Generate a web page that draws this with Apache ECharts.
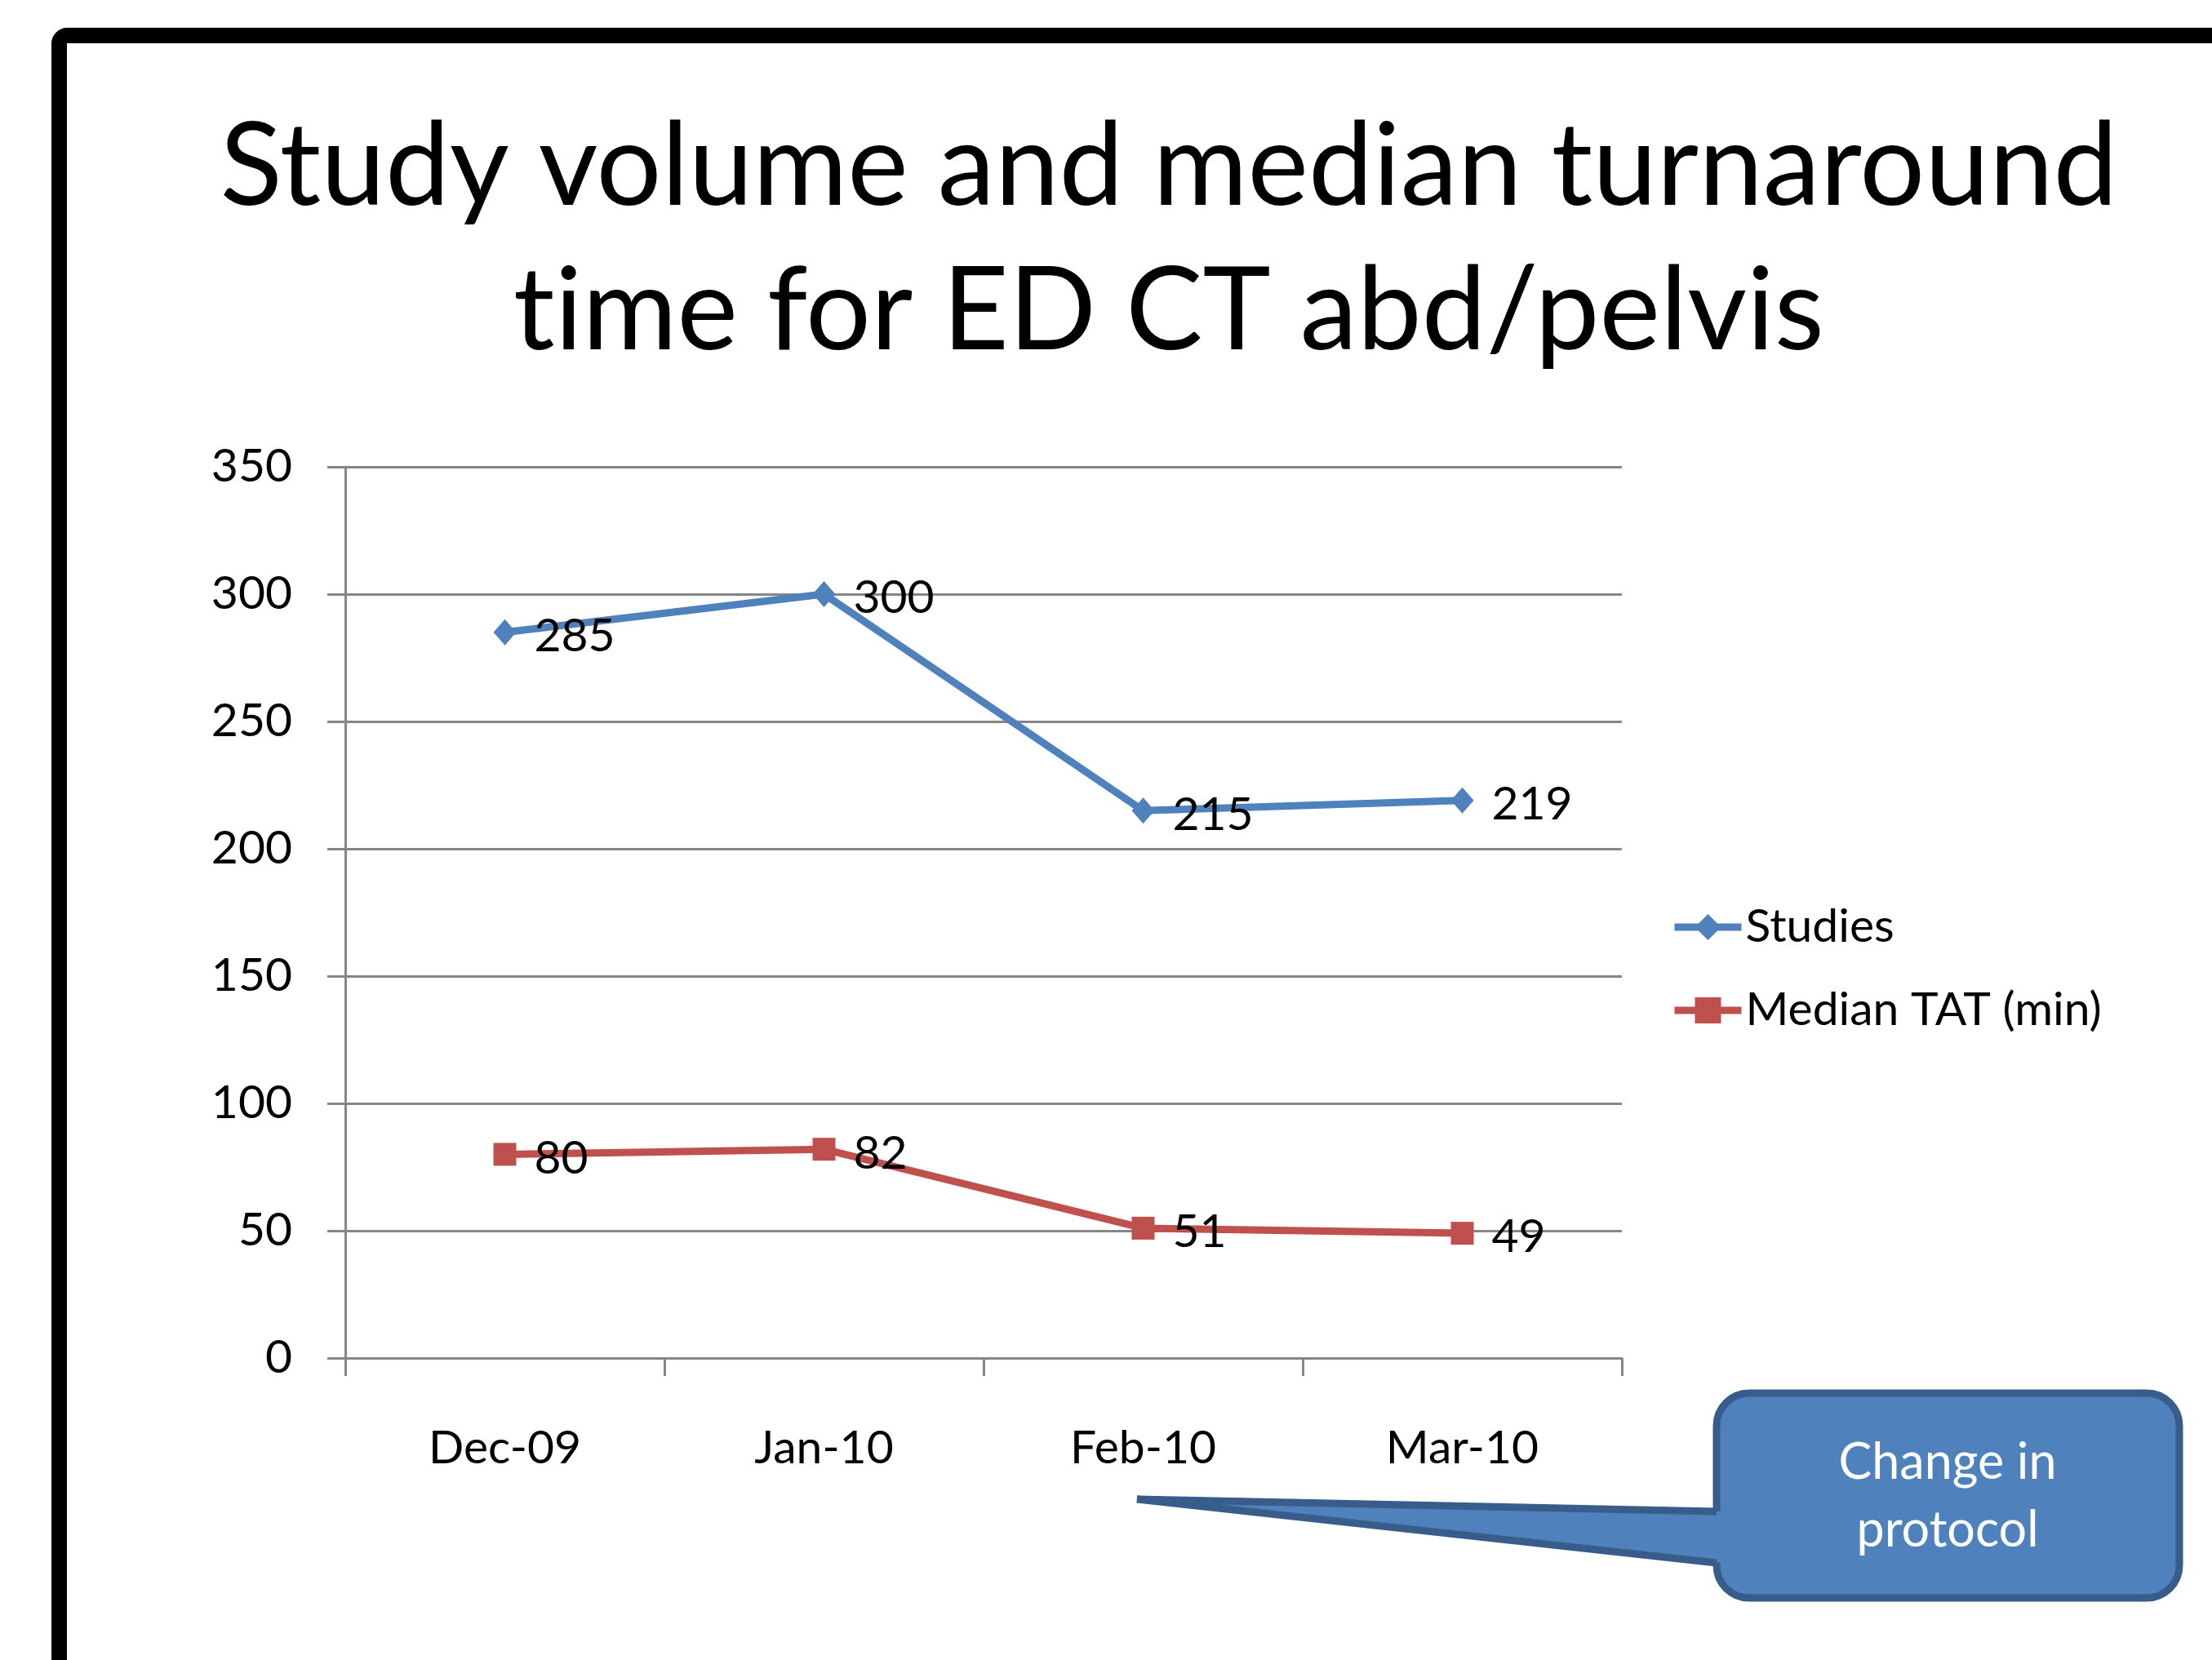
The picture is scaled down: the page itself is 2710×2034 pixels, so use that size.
<!DOCTYPE html>
<html>
<head>
<meta charset="utf-8">
<title>Study volume and median turnaround time</title>
<script src="https://cdn.jsdelivr.net/npm/echarts@6/dist/echarts.min.js"></script>
<style>
    html, body {margin: 0; padding: 0; background: #fff;}
    #chart {width: 2710px; height: 2034px;}
</style>
</head>
<body>
<div id="chart"></div>
<script>
// data
var months = ['Dec-09', 'Jan-10', 'Feb-10', 'Mar-10'];
var studies = [285, 300, 215, 219];
var medianTat = [80, 82, 51, 49];
var yTicks = [0, 50, 100, 150, 200, 250, 300, 350];

var FONT = 'Lato, "Open Sans", sans-serif';
var BLUE = '#4F81BD';
var RED = '#C0504D';

function pointLabel() {
    return {
        show: true,
        position: 'right',
        distance: 22,
        offset: [0, 5],
        color: '#000',
        fontFamily: FONT,
        fontSize: 57
    };
}

function drawChart() {
    var myChart = echarts.init(document.getElementById('chart'));
    var option = {
        backgroundColor: '#fff',
        animation: false,
        title: {
            // \u200C keeps Lato from joining "ti" into a ligature
            text: 'Study volume and median turnaround\nt\u200Cime for ED CT abd/pelvis',
            left: 1427,
            top: 112,
            textAlign: 'center',
            textStyle: {
                fontFamily: FONT,
                fontWeight: 'normal',
                fontSize: 141,
                lineHeight: 177,
                color: '#000'
            }
        },
        legend: {
            orient: 'vertical',
            left: 2042,
            top: 1101,
            itemWidth: 82,
            itemHeight: 40,
            itemGap: 42,
            lineStyle: {width: 9},
            textStyle: {
                fontFamily: FONT,
                fontSize: 57,
                lineHeight: 60,
                color: '#000'
            },
            data: ['Studies', 'Median TAT (min)']
        },
        grid: {
            left: 423,
            top: 572,
            right: 723,
            bottom: 370,
            containLabel: false
        },
        xAxis: {
            type: 'category',
            data: months,
            boundaryGap: true,
            axisLine: {lineStyle: {color: '#868686', width: 3}},
            axisTick: {show: true, length: 22, lineStyle: {color: '#868686', width: 3}},
            axisLabel: {
                margin: 82,
                color: '#000',
                fontFamily: FONT,
                fontSize: 57
            }
        },
        yAxis: {
            type: 'value',
            min: yTicks[0],
            max: yTicks[yTicks.length - 1],
            interval: yTicks[1] - yTicks[0],
            axisLine: {show: true, lineStyle: {color: '#868686', width: 3}},
            axisTick: {show: true, length: 22, lineStyle: {color: '#868686', width: 3}},
            splitLine: {lineStyle: {color: '#868686', width: 3}},
            axisLabel: {
                margin: 65,
                color: '#000',
                fontFamily: FONT,
                fontSize: 57
            }
        },
        series: [
            {
                name: 'Studies',
                type: 'line',
                data: studies,
                symbol: 'diamond',
                symbolSize: [28, 32],
                color: BLUE,
                lineStyle: {color: BLUE, width: 9},
                itemStyle: {color: BLUE},
                label: pointLabel(),
                z: 3
            },
            {
                name: 'Median TAT (min)',
                type: 'line',
                data: medianTat,
                symbol: 'rect',
                symbolSize: 28,
                color: RED,
                lineStyle: {color: RED, width: 9},
                itemStyle: {color: RED},
                label: pointLabel(),
                z: 3
            }
        ],
        graphic: [
            // slide frame
            {
                type: 'rect',
                shape: {x: 72.5, y: 43.5, width: 2800, height: 2200, r: 10},
                style: {fill: 'none', stroke: '#000', lineWidth: 19},
                z: 10
            },
            // callout box
            {
                type: 'rect',
                shape: {x: 2103, y: 1707, width: 567, height: 251, r: 40},
                style: {fill: BLUE, stroke: '#385D8A', lineWidth: 9},
                z: 10
            },
            {
                type: 'polygon',
                shape: {points: [[1393, 1837], [2112, 1852], [2112, 1915]]},
                style: {fill: BLUE},
                z: 11
            },
            {
                type: 'polyline',
                shape: {points: [[2103, 1852], [1393, 1837], [2103, 1915]]},
                style: {fill: null, stroke: '#385D8A', lineWidth: 9},
                z: 11
            },
            {
                type: 'text',
                x: 2386,
                y: 1834,
                style: {
                    text: 'Change in\nprotocol',
                    fill: '#fff',
                    font: '61px ' + FONT,
                    lineHeight: 83,
                    align: 'center',
                    verticalAlign: 'middle'
                },
                z: 12
            }
        ]
    };
    myChart.setOption(option);
}

drawChart();
</script>
</body>
</html>
